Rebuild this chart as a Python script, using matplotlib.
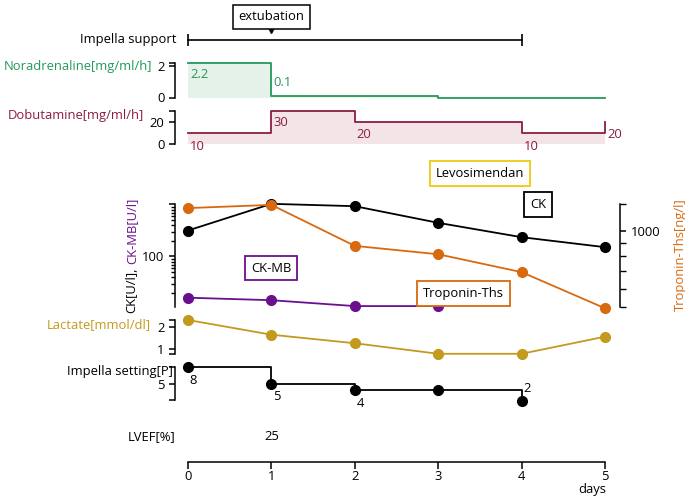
import matplotlib
matplotlib.use('Agg')
import matplotlib.pyplot as plt
from matplotlib.ticker import FixedLocator, NullFormatter

plt.rcParams['font.family'] = ['Open Sans', 'DejaVu Sans']
plt.rcParams['font.size'] = 9.4
plt.rcParams['axes.linewidth'] = 1.1
plt.rcParams['xtick.major.width'] = 1.1
plt.rcParams['ytick.major.width'] = 1.1
plt.rcParams['ytick.minor.width'] = 1.0
plt.rcParams['xtick.major.size'] = 4
plt.rcParams['ytick.major.size'] = 4
plt.rcParams['ytick.minor.size'] = 3

# data
days = [0, 1, 2, 3, 4, 5]
impella_support = [0, 4]
extubation_day = 1
levosimendan_day = 3.5
noradrenaline = [2.2, 0.1, 0.1, 0.0, 0.0, 0.0]
dobutamine = [10, 30, 20, 20, 10, 20]
ck = [316, 1030, 928, 444, 235, 151]
ck_mb = [16.1, 14.4, 11.1, 11.1]
troponin = [1220, 1255, 876, 814, 696, 507]
lactate = [2.33, 1.66, 1.27, 0.79, 0.79, 1.57]
impella_days = [0, 1, 2, 3, 4]
impella_setting = [8, 5, 4, 4, 2]
lvef_days = [1]
lvef = [25]

GREEN = '#23995a'
GREEN_FILL = '#e4f2e9'
RED = '#8c1d40'
RED_FILL = '#f3e4e7'
PURPLE = '#6a0f8e'
ORANGE = '#d9690f'
GOLD = '#c3991e'
YELLOW = '#f0c814'

W, H = 685, 496
fig = plt.figure(figsize=(W / 100, H / 100), dpi=100)

X0, X1 = 188, 605
PX = 0.72  # points per pixel


def px_axes(top, bottom, left=X0, right=X1):
    ax = fig.add_axes([left / W, 1 - bottom / H, (right - left) / W, (bottom - top) / H])
    ax.set_xlim(0, 5)
    ax.patch.set_visible(False)
    for s in ['top', 'right', 'bottom']:
        ax.spines[s].set_visible(False)
    ax.set_xticks([])
    ax.spines['left'].set_position(('outward', 13 * PX))
    return ax


def row_label(text, x, y, color='black'):
    fig.text(x / W, 1 - y / H, text, ha='right', va='center', color=color)


def val_labels(ax, xs, ys, idx, offsets, color):
    for i, (dx, dy) in zip(idx, offsets):
        ax.annotate(f'{ys[i]:g}', xy=(xs[i], ys[i]), xytext=(dx * PX, dy * PX),
                    textcoords='offset points', ha='left', va='center',
                    color=color, annotation_clip=False)


# Impella support + extubation
ax = px_axes(30, 50)
ax.spines['left'].set_visible(False)
ax.set_yticks([])
ax.set_ylim(0, 1)
ax.plot(impella_support, [0.5, 0.5], color='black', lw=1.2, marker='|', ms=9, mew=1.2, clip_on=False)
ax.annotate('extubation', xy=(extubation_day, 1.0), xytext=(0, 13 * PX), textcoords='offset points',
            ha='center', va='center', annotation_clip=False,
            bbox=dict(boxstyle='square,pad=0.4', fc='white', ec='black', lw=1.1))
ax.plot(extubation_day, 0.98, marker='v', ms=4, color='black', clip_on=False)
row_label('Impella support', 177, 40)

# Noradrenaline
ax = px_axes(62.7, 97.5)
ax.set_ylim(0, 2.2)
ax.step(days, noradrenaline, where='post', color=GREEN, lw=1.3, clip_on=False)
ax.fill_between(days, noradrenaline, step='post', color=GREEN_FILL, lw=0)
ax.set_yticks([0, 2, 2.2], ['0', '2', ''])
val_labels(ax, days, noradrenaline, [0, 1], [(2, -12), (2, 13)], GREEN)
row_label('Noradrenaline[mg/ml/h]', 152, 66.5, GREEN)

# Dobutamine
ax = px_axes(110.5, 144)
ax.set_ylim(0, 30)
ax.step(days, dobutamine, where='post', color=RED, lw=1.3, clip_on=False)
ax.fill_between(days, dobutamine, step='post', color=RED_FILL, lw=0)
ax.set_yticks([0, 20, 30], ['0', '20', ''])
val_labels(ax, days, dobutamine, [0, 1, 2, 4, 5], [(2, -14), (2, -12.5), (2, -12.5), (2, -14), (2, -13)], RED)
row_label('Dobutamine[mg/ml/h]', 144, 115, RED)

# CK / CK-MB (left, log) and Troponin (right, log)
ax = px_axes(204.5, 306.5)
ax.set_yscale('log')
ax.set_ylim(10.9, 1000)
ax.yaxis.set_major_locator(FixedLocator([100, 1000]))
ax.set_yticklabels(['100', ''])
ax.yaxis.set_minor_locator(FixedLocator([20, 30, 40, 50, 60, 70, 80, 90,
                                         200, 300, 400, 500, 600, 700, 800, 900]))
ax.yaxis.set_minor_formatter(NullFormatter())
ax.plot(days, ck, color='black', lw=1.3, marker='o', ms=7, clip_on=False, zorder=3)
ax.plot(days[:len(ck_mb)], ck_mb, color=PURPLE, lw=1.3, marker='o', ms=7, clip_on=False, zorder=3)

ax2 = ax.twinx()
ax2.set_xlim(0, 5)
ax2.patch.set_visible(False)
for s in ['top', 'left', 'bottom']:
    ax2.spines[s].set_visible(False)
ax2.spines['right'].set_position(('outward', 15 * PX))
ax2.set_yscale('log')
ax2.set_ylim(515, 1259)
ax2.yaxis.set_major_locator(FixedLocator([1000]))
ax2.set_yticklabels(['1000'])
ax2.yaxis.set_minor_locator(FixedLocator([515, 600, 700, 800, 900, 1259]))
ax2.yaxis.set_minor_formatter(NullFormatter())
ax2.tick_params(axis='y', which='minor', length=4)
ax2.plot(days, troponin, color=ORANGE, lw=1.3, marker='o', ms=7, clip_on=False, zorder=2)

box = dict(boxstyle='square,pad=0.45', fc='white', lw=1.3)
ax.annotate('Levosimendan', xy=(levosimendan_day, 1), xycoords=('data', 'axes fraction'),
            xytext=(0, 31 * PX), textcoords='offset points', ha='center', va='center',
            bbox=dict(box, ec=YELLOW), annotation_clip=False)
ax.text(4.2, 1.0, 'CK', transform=ax.get_xaxis_transform(), ha='center', va='center',
        bbox=dict(box, ec='black'))
ax.text(1.0, 0.377, 'CK-MB', transform=ax.get_xaxis_transform(), ha='center', va='center',
        bbox=dict(box, ec=PURPLE))
ax.text(3.3, 0.13, 'Troponin-Ths', transform=ax.get_xaxis_transform(), ha='center', va='center',
        bbox=dict(box, ec=ORANGE))

fig.text(680 / W, 1 - 255 / H, 'Troponin-Ths[ng/l]', rotation=90, ha='center', va='center', color=ORANGE)
t1 = fig.text(132 / W, 1 - 313 / H, 'CK[U/l],', rotation=90, ha='center', va='bottom', color='black')
fig.canvas.draw()
bb = t1.get_window_extent()
fig.text(132 / W, (bb.y1 + 4) / H, 'CK-MB[U/l]', rotation=90, ha='center', va='bottom', color=PURPLE)

# Lactate
ax = px_axes(320, 354)
ax.set_ylim(0.78, 2.33)
ax.set_yticks([0.78, 1, 2, 2.33], ['', '1', '2', ''])
ax.plot(days, lactate, color=GOLD, lw=1.3, marker='o', ms=7, clip_on=False)
row_label('Lactate[mmol/dl]', 151, 325, GOLD)

# Impella setting
ax = px_axes(366.7, 400)
ax.set_ylim(2.2, 8)
ax.set_yticks([2.2, 5, 8], ['', '5', ''])
ax.plot(impella_days, impella_setting, color='black', lw=1.3, drawstyle='steps-post', clip_on=False)
ax.plot(impella_days, impella_setting, 'o', color='black', ms=7, clip_on=False)
val_labels(ax, impella_days, impella_setting, [0, 1, 2, 4], [(1, -14), (2, -13), (2, -14), (2, 13)], 'black')
row_label('Impella setting[P]', 173, 371.5)

# LVEF
ax = px_axes(427, 447)
ax.spines['left'].set_visible(False)
ax.set_yticks([])
ax.set_ylim(0, 1)
for d, v in zip(lvef_days, lvef):
    ax.text(d, 0.5, str(v), ha='center', va='center')
row_label('LVEF[%]', 175, 437)

# x axis
ax = fig.add_axes([X0 / W, 1 - 462 / H, (X1 - X0) / W, 0.01])
ax.set_xlim(0, 5)
ax.patch.set_visible(False)
for s in ['top', 'right', 'left']:
    ax.spines[s].set_visible(False)
ax.set_yticks([])
ax.set_xticks(days)
ax.tick_params(axis='x', length=5, pad=1)
fig.text(606 / W, 1 - 489.5 / H, 'days', ha='right', va='center')

fig.savefig('out.png', dpi=100)
